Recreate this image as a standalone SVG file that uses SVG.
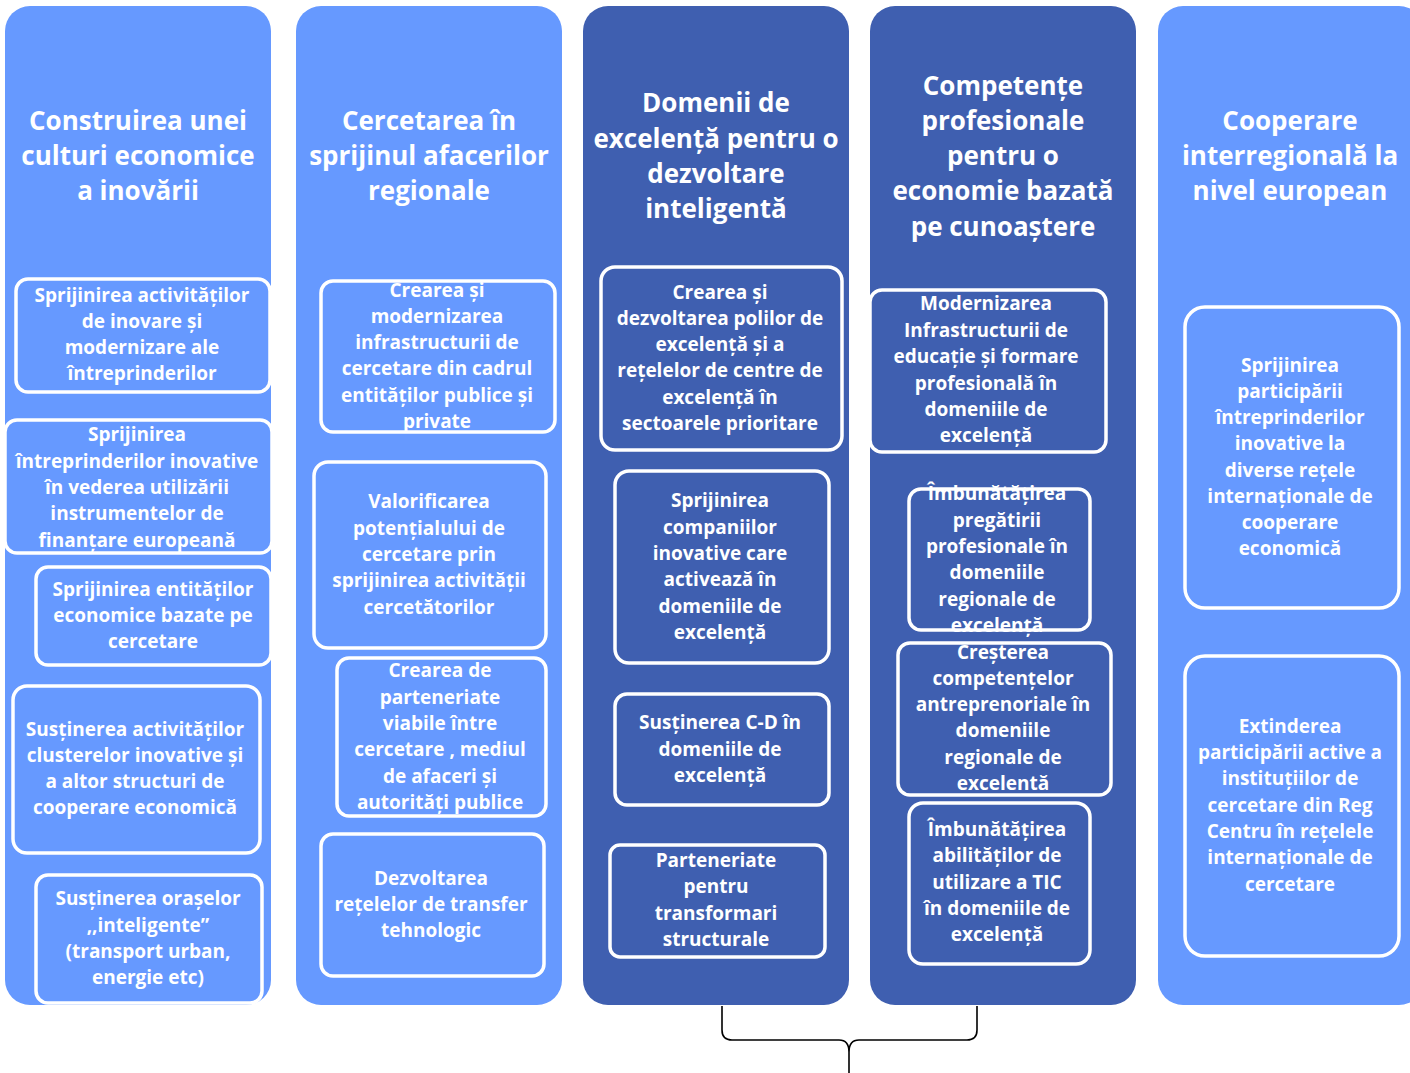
<svg xmlns="http://www.w3.org/2000/svg" width="1410" height="1073" viewBox="0 0 1410 1073">
<style>
.light{fill:#6699FF}
.dark{fill:#3F5FB0}
.box{stroke:#FFFFFF;stroke-width:3.5}
.hdr{font-family:"Open Sans","Noto Sans","Liberation Sans",sans-serif;font-weight:700;font-size:26px;fill:#FFFFFF;text-anchor:middle}
.t{font-family:"Open Sans","Noto Sans","Liberation Sans",sans-serif;font-weight:700;font-size:19px;fill:#FFFFFF;text-anchor:middle}
.brace{fill:none;stroke:#000000;stroke-width:1.6}
</style>
<rect width="1410" height="1073" fill="#FFFFFF"/>

<g id="col1">
<rect class="light" x="5" y="6" width="266" height="999" rx="25"/>
<text class="hdr" x="138"><tspan x="138" y="130">Construirea unei</tspan><tspan x="138" y="165">culturi economice</tspan><tspan x="138" y="200">a inovării</tspan></text>
</g>
<g id="col1-b1">
<rect class="light box" x="16" y="279" width="254" height="113" rx="12"/>
<text class="t"><tspan x="142" y="302">Sprijinirea activităților</tspan><tspan x="142" y="328">de inovare și</tspan><tspan x="142" y="354">modernizare ale</tspan><tspan x="142" y="380">întreprinderilor</tspan></text>
</g>
<g id="col1-b2">
<rect class="light box" x="5" y="420" width="267" height="133" rx="12"/>
<text class="t"><tspan x="137" y="441">Sprijinirea</tspan><tspan x="137" y="468">întreprinderilor inovative</tspan><tspan x="137" y="494">în vederea utilizării</tspan><tspan x="137" y="520">instrumentelor de</tspan><tspan x="137" y="547">finanțare europeană</tspan></text>
</g>
<g id="col1-b3">
<rect class="light box" x="36" y="567" width="235" height="98" rx="12"/>
<text class="t"><tspan x="153" y="596">Sprijinirea entităților</tspan><tspan x="153" y="622">economice bazate pe</tspan><tspan x="153" y="648">cercetare</tspan></text>
</g>
<g id="col1-b4">
<rect class="light box" x="13" y="686" width="247" height="167" rx="14"/>
<text class="t"><tspan x="135" y="736">Susținerea activităților</tspan><tspan x="135" y="762">clusterelor inovative și</tspan><tspan x="135" y="788">a altor structuri  de</tspan><tspan x="135" y="814">cooperare economică</tspan></text>
</g>
<g id="col1-b5">
<rect class="light box" x="36" y="875" width="226" height="128" rx="12"/>
<text class="t"><tspan x="148" y="905">Susținerea orașelor</tspan><tspan x="148" y="932">,,inteligente”</tspan><tspan x="148" y="958">(transport urban,</tspan><tspan x="148" y="984">energie etc)</tspan></text>
</g>

<g id="col2">
<rect class="light" x="296" y="6" width="266" height="999" rx="25"/>
<text class="hdr"><tspan x="429" y="130">Cercetarea în</tspan><tspan x="429" y="165">sprijinul afacerilor</tspan><tspan x="429" y="200">regionale</tspan></text>
</g>
<g id="col2-b1">
<rect class="light box" x="321" y="281" width="234" height="151" rx="12"/>
<text class="t"><tspan x="437" y="297">Crearea și</tspan><tspan x="437" y="323">modernizarea</tspan><tspan x="437" y="349">infrastructurii de</tspan><tspan x="437" y="375">cercetare din cadrul</tspan><tspan x="437" y="402">entităților publice și</tspan><tspan x="437" y="428">private</tspan></text>
</g>
<g id="col2-b2">
<rect class="light box" x="314" y="462" width="232" height="186" rx="14"/>
<text class="t"><tspan x="429" y="508">Valorificarea</tspan><tspan x="429" y="535">potențialului de</tspan><tspan x="429" y="561">cercetare prin</tspan><tspan x="429" y="587">sprijinirea activității</tspan><tspan x="429" y="614">cercetătorilor</tspan></text>
</g>
<g id="col2-b3">
<rect class="light box" x="337" y="658" width="209" height="158" rx="12"/>
<text class="t"><tspan x="440" y="677">Crearea de</tspan><tspan x="440" y="704">parteneriate</tspan><tspan x="440" y="730">viabile  între</tspan><tspan x="440" y="756">cercetare , mediul</tspan><tspan x="440" y="783">de afaceri și</tspan><tspan x="440" y="809">autorități publice</tspan></text>
</g>
<g id="col2-b4">
<rect class="light box" x="321" y="834" width="223" height="142" rx="12"/>
<text class="t"><tspan x="431" y="885">Dezvoltarea</tspan><tspan x="431" y="911">rețelelor de transfer</tspan><tspan x="431" y="937">tehnologic</tspan></text>
</g>

<g id="col3">
<rect class="dark" x="583" y="6" width="266" height="999" rx="25"/>
<text class="hdr"><tspan x="716" y="112">Domenii de</tspan><tspan x="716" y="148">excelență pentru o</tspan><tspan x="716" y="183">dezvoltare</tspan><tspan x="716" y="218">inteligentă</tspan></text>
</g>
<g id="col3-b1">
<rect class="dark box" x="601" y="267" width="241" height="183" rx="14"/>
<text class="t"><tspan x="720" y="299">Crearea și</tspan><tspan x="720" y="325">dezvoltarea polilor de</tspan><tspan x="720" y="351">excelență și a</tspan><tspan x="720" y="377">rețelelor de centre de</tspan><tspan x="720" y="404">excelență în</tspan><tspan x="720" y="430">sectoarele prioritare</tspan></text>
</g>
<g id="col3-b2">
<rect class="dark box" x="615" y="471" width="214" height="192" rx="14"/>
<text class="t"><tspan x="720" y="507">Sprijinirea</tspan><tspan x="720" y="534">companiilor</tspan><tspan x="720" y="560">inovative care</tspan><tspan x="720" y="586">activează în</tspan><tspan x="720" y="613">domeniile  de</tspan><tspan x="720" y="639">excelență</tspan></text>
</g>
<g id="col3-b3">
<rect class="dark box" x="615" y="694" width="214" height="111" rx="12"/>
<text class="t"><tspan x="720" y="729">Susținerea C-D în</tspan><tspan x="720" y="756">domeniile de</tspan><tspan x="720" y="782">excelență</tspan></text>
</g>
<g id="col3-b4">
<rect class="dark box" x="610" y="845" width="215" height="112" rx="10"/>
<text class="t"><tspan x="716" y="867">Parteneriate</tspan><tspan x="716" y="893">pentru</tspan><tspan x="716" y="920">transformari</tspan><tspan x="716" y="946">structurale</tspan></text>
</g>

<g id="col4">
<rect class="dark" x="870" y="6" width="266" height="999" rx="25"/>
<text class="hdr"><tspan x="1003" y="95">Competențe</tspan><tspan x="1003" y="130">profesionale</tspan><tspan x="1003" y="165">pentru o</tspan><tspan x="1003" y="200">economie bazată</tspan><tspan x="1003" y="236">pe cunoaștere</tspan></text>
</g>
<g id="col4-b1">
<rect class="dark box" x="870" y="290" width="236" height="162" rx="12"/>
<text class="t"><tspan x="986" y="310">Modernizarea</tspan><tspan x="986" y="337">Infrastructurii de</tspan><tspan x="986" y="363">educație și formare</tspan><tspan x="986" y="390">profesională în</tspan><tspan x="986" y="416">domeniile de</tspan><tspan x="986" y="442">excelență</tspan></text>
</g>
<g id="col4-b2">
<rect class="dark box" x="909" y="489" width="181" height="141" rx="12"/>
<text class="t"><tspan x="997" y="500">Îmbunătățirea</tspan><tspan x="997" y="527">pregătirii</tspan><tspan x="997" y="553">profesionale în</tspan><tspan x="997" y="579">domeniile</tspan><tspan x="997" y="606">regionale de</tspan><tspan x="997" y="632">excelență</tspan></text>
</g>
<g id="col4-b3">
<rect class="dark box" x="898" y="643" width="213" height="152" rx="12"/>
<text class="t"><tspan x="1003" y="659">Creșterea</tspan><tspan x="1003" y="685">competențelor</tspan><tspan x="1003" y="711">antreprenoriale în</tspan><tspan x="1003" y="737">domeniile</tspan><tspan x="1003" y="764">regionale de</tspan><tspan x="1003" y="790">excelentă</tspan></text>
</g>
<g id="col4-b4">
<rect class="dark box" x="909" y="803" width="181" height="161" rx="14"/>
<text class="t"><tspan x="997" y="836">Îmbunătățirea</tspan><tspan x="997" y="862">abilităților de</tspan><tspan x="997" y="889">utilizare a  TIC</tspan><tspan x="997" y="915">în domeniile de</tspan><tspan x="997" y="941">excelență</tspan></text>
</g>

<g id="col5">
<rect class="light" x="1158" y="6" width="266" height="999" rx="25"/>
<text class="hdr"><tspan x="1290" y="130">Cooperare</tspan><tspan x="1290" y="165">interregională la</tspan><tspan x="1290" y="200">nivel european</tspan></text>
</g>
<g id="col5-b1">
<rect class="light box" x="1185" y="307" width="214" height="301" rx="20"/>
<text class="t"><tspan x="1290" y="372">Sprijinirea</tspan><tspan x="1290" y="398">participării</tspan><tspan x="1290" y="424">întreprinderilor</tspan><tspan x="1290" y="450">inovative la</tspan><tspan x="1290" y="477">diverse rețele</tspan><tspan x="1290" y="503">internaționale de</tspan><tspan x="1290" y="529">cooperare</tspan><tspan x="1290" y="555">economică</tspan></text>
</g>
<g id="col5-b2">
<rect class="light box" x="1185" y="656" width="214" height="300" rx="20"/>
<text class="t"><tspan x="1290" y="733">Extinderea</tspan><tspan x="1290" y="759">participării active a</tspan><tspan x="1290" y="785">instituțiilor de</tspan><tspan x="1290" y="812">cercetare din Reg</tspan><tspan x="1290" y="838">Centru în rețelele</tspan><tspan x="1290" y="864">internaționale de</tspan><tspan x="1290" y="891">cercetare</tspan></text>
</g>

<g id="connectors">
<path class="brace" d="M722,1006 L722,1030 Q722,1040 732,1040 L839,1040 Q849,1040 849,1052 L849,1073 M849,1052 Q849,1040 859,1040 L967,1040 Q977,1040 977,1030 L977,1006"/>
</g>
</svg>
